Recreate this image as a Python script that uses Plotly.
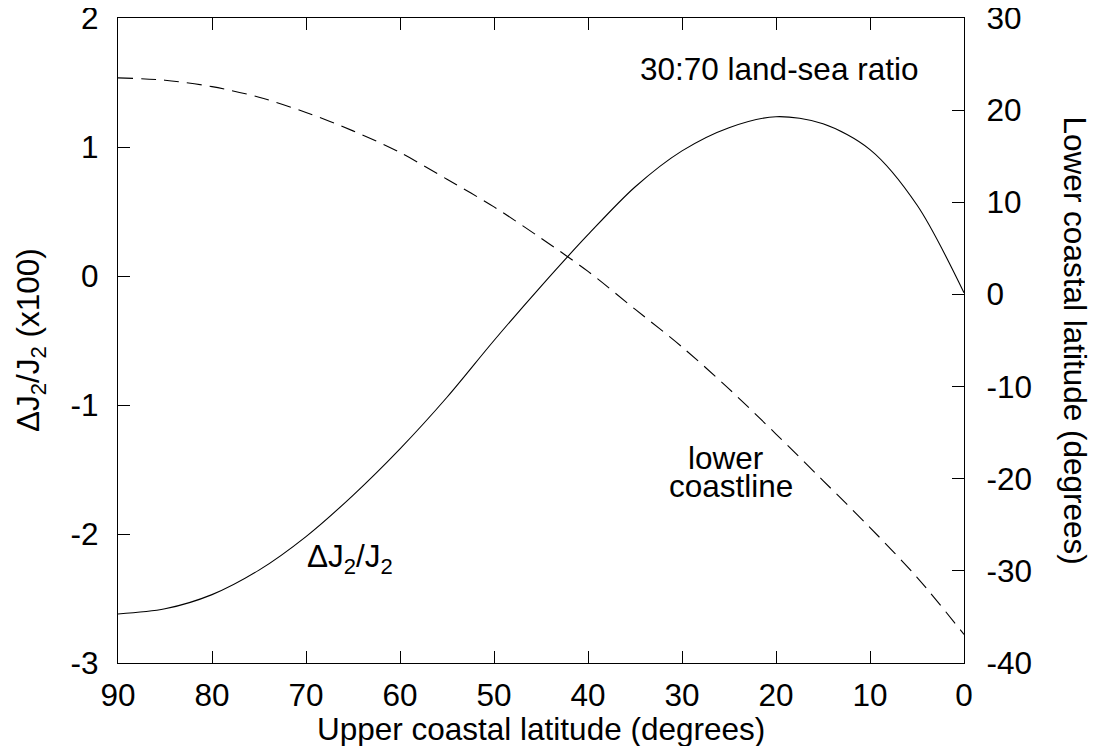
import plotly.graph_objects as go

# Upper coastal latitude (degrees)
lat_upper = [90, 85, 80, 75, 70, 65, 60, 55, 50, 45, 40, 35, 30, 25, 20, 15, 10, 5, 0]
# dJ2/J2 (x100), left axis
dj2 = [-2.62, -2.58, -2.47, -2.28, -2.02, -1.70, -1.34, -0.94, -0.50, -0.08,
       0.32, 0.69, 0.97, 1.15, 1.235, 1.18, 0.98, 0.55, -0.13]
# Lower coastal latitude (degrees), right axis
lower_lat = [23.5, 23.25, 22.55, 21.4, 19.75, 17.75, 15.4, 12.5, 9.5, 6.1,
             2.5, -1.6, -5.7, -10.25, -15.15, -20.2, -25.3, -30.7, -36.9]

x_ticks = [90, 80, 70, 60, 50, 40, 30, 20, 10, 0]
x_ticktext = ["90", "80", "70", "60", "50", "40", "30", "20", "10", "0"]
yl_ticks = [-3, -2, -1, 0, 1, 2]
yl_ticktext = ["-3", "-2", "-1", "0", "1", "2"]
yr_ticks = [-40, -30, -20, -10, 0, 10, 20, 30]
yr_ticktext = ["-40", "-30", "-20", "-10", "0", "10", "20", "30"]

FONT = "Liberation Sans, Arial, Helvetica, sans-serif"
FS = 31.5

fig = go.Figure()
fig.add_trace(go.Scatter(x=lat_upper, y=dj2, mode="lines",
                         line=dict(color="black", width=1.1, shape="spline", smoothing=0.9),
                         yaxis="y", showlegend=False))
fig.add_trace(go.Scatter(x=lat_upper, y=lower_lat, mode="lines",
                         line=dict(color="black", width=1.1, shape="spline", smoothing=0.9,
                                   dash="15px,8px"),
                         yaxis="y2", showlegend=False))

axis_common = dict(showgrid=False, zeroline=False, showline=True, linecolor="black",
                   linewidth=1.2, ticks="inside", ticklen=12, tickwidth=1.2,
                   tickcolor="black", automargin=False, ticklabeloverflow="allow",
                   tickfont=dict(family=FONT, size=FS, color="black"))

# page body has an 8px margin, so the figure is sized to fit the remaining window
fig.update_layout(
    width=1092, height=738,
    margin=dict(l=110, r=136, t=10, b=83, autoexpand=False),
    paper_bgcolor="white", plot_bgcolor="white",
    font=dict(family=FONT, size=FS, color="black"),
    xaxis=dict(range=[90, 0], tickvals=x_ticks, ticktext=x_ticktext, mirror="ticks",
               ticklabelstandoff=4, **axis_common),
    yaxis=dict(range=[-3, 2], tickvals=yl_ticks, ticktext=yl_ticktext,
               ticklabelstandoff=12, **axis_common),
    yaxis2=dict(range=[-40, 30], tickvals=yr_ticks, ticktext=yr_ticktext,
                overlaying="y", side="right", ticklabelstandoff=15, **axis_common),
)

ann_font = dict(family=FONT, size=FS, color="black")
fig.add_annotation(text="Upper coastal latitude (degrees)", xref="paper", yref="paper",
                   x=0.5, y=-0.1023, showarrow=False, font=ann_font,
                   xanchor="center", yanchor="middle")
fig.add_annotation(text="ΔJ<sub>2</sub>/J<sub>2</sub> (x100)", xref="paper", yref="paper",
                   x=-0.1034, y=0.5, showarrow=False, font=ann_font, textangle=-90,
                   xanchor="center", yanchor="middle")
fig.add_annotation(text="Lower coastal latitude (degrees)", xref="paper", yref="paper",
                   x=1.1323, y=0.5, showarrow=False, font=ann_font, textangle=90,
                   xanchor="center", yanchor="middle")
fig.add_annotation(text="30:70 land-sea ratio", xref="x", yref="y",
                   x=19.7, y=1.605, showarrow=False, font=ann_font,
                   xanchor="center", yanchor="middle")
fig.add_annotation(text="lower", xref="x", yref="y",
                   x=25.4, y=-1.407, showarrow=False, font=ann_font,
                   xanchor="center", yanchor="middle")
fig.add_annotation(text="coastline", xref="x", yref="y",
                   x=24.8, y=-1.628, showarrow=False, font=ann_font,
                   xanchor="center", yanchor="middle")
fig.add_annotation(text="ΔJ<sub>2</sub>/J<sub>2</sub>", xref="x", yref="y",
                   x=65.3, y=-2.19, showarrow=False, font=ann_font,
                   xanchor="center", yanchor="middle")

fig.write_html("out.html")
